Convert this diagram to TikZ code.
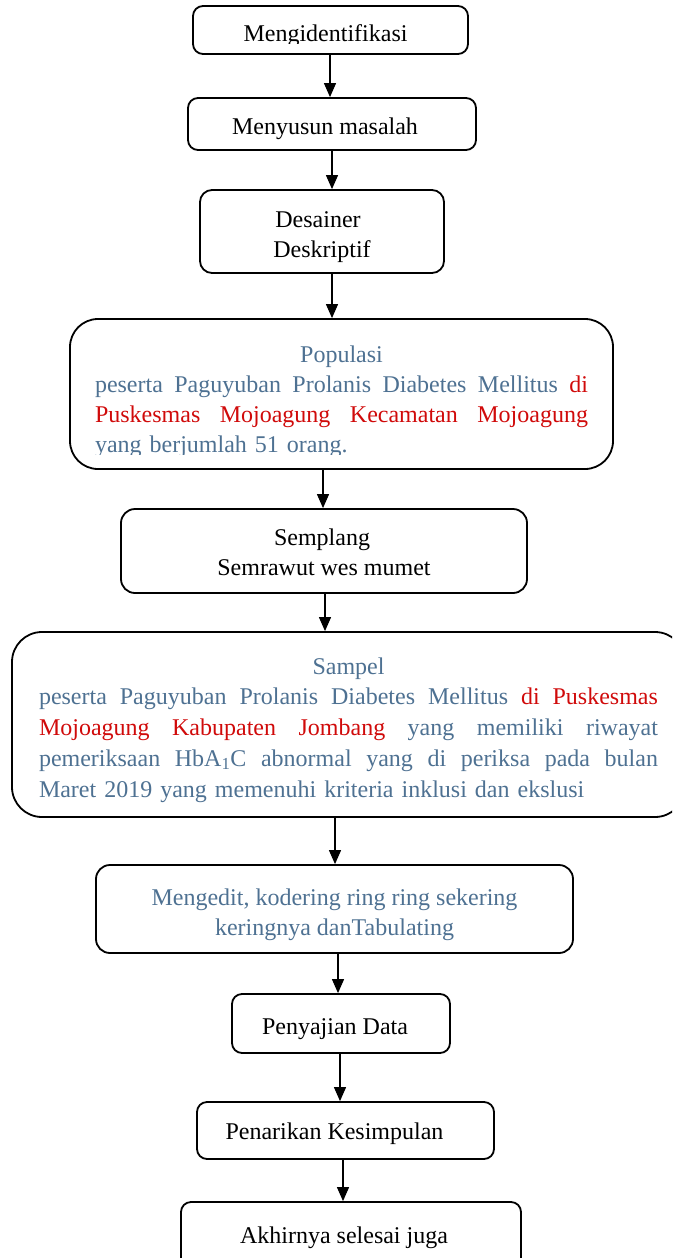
\documentclass[tikz,border=0pt]{standalone}
\usepackage{fontspec}
\setmainfont{Liberation Serif}
\usetikzlibrary{arrows.meta}
\definecolor{bl}{HTML}{4E7192}
\definecolor{rd}{HTML}{D00A0A}
\tikzset{
  box/.style={draw=black, line width=1.8pt, rounded corners=#1, inner sep=0pt,
    align=center, font=\fontsize{24}{30}\selectfont, text depth=0pt},
  box/.default=10pt,
  txt/.style={inner sep=0pt, font=\fontsize{24}{30}\selectfont},
  arr/.style={line width=1.2pt, -{Triangle[width=12pt,length=14pt]}},
}
\begin{document}
\begin{tikzpicture}[x=1pt,y=-1pt]
\useasboundingbox (0,0) rectangle (672,1258);
\clip (0,0) rectangle (672,1258);

% boxes
\node[box, minimum width=275pt, minimum height=48pt] (b1) at (330.5,30) {};
\begin{scope}
  \clip (193,6) rectangle (468,43);
  \node[txt, anchor=base] (t1) at (325.5,41) {Mengidentifikasi};
\end{scope}
\node[box, minimum width=288pt, minimum height=52pt, text height=21pt] (b2) at (332,124) {Menyusun masalah\hspace*{14pt}};
\node[box=12pt, minimum width=244pt, minimum height=83pt, text height=51pt] (b3) at (322,231.5) {Desainer\hspace*{8pt}\\Deskriptif};
\node[box=28pt, minimum width=543pt, minimum height=150pt] (b4) at (341.5,394) {};
\begin{scope}
  \clip (72,321) rectangle (611,454.5);
  \node[txt, anchor=base, text width=493pt, align=left] (t4) at (341.5,362) {%
    \makebox[493pt][c]{\color{bl}Populasi}\\
    \makebox[493pt][l]{\color{bl}peserta\hfill Paguyuban\hfill Prolanis\hfill Diabetes\hfill Mellitus\hfill {\color{rd}di}}\\
    \makebox[493pt][l]{\color{rd}Puskesmas\hfill Mojoagung\hfill Kecamatan\hfill Mojoagung}\\
    {\color{bl}yang berjumlah 51 orang.}};
\end{scope}
\node[box=14pt, minimum width=406pt, minimum height=84pt, text height=49pt] (b5) at (324,551) {Semplang\hspace*{4pt}\\Semrawut wes mumet};
\node[box=30pt, minimum width=673pt, minimum height=185pt, text width=619pt, align=left, text height=0pt, text depth=101pt,
      font=\fontsize{24}{30.75}\selectfont] (b6) at (348.5,724.5) {%
  \makebox[619pt][c]{\color{bl}Sampel}\\
  \makebox[619pt][l]{\color{bl}peserta\hfill Paguyuban\hfill Prolanis\hfill Diabetes\hfill Mellitus\hfill {\color{rd}di\hfill Puskesmas}}\\
  \makebox[619pt][l]{{\color{rd}Mojoagung\hfill Kabupaten\hfill Jombang}\hfill\color{bl}yang\hfill memiliki\hfill riwayat}\\
  \makebox[619pt][l]{\color{bl}pemeriksaan\hfill HbA\textsubscript{1}C\hfill abnormal\hfill yang\hfill di\hfill periksa\hfill pada\hfill bulan}\\
  {\color{bl}Maret 2019 yang memenuhi kriteria inklusi dan ekslusi}};
\node[box=14pt, minimum width=477pt, minimum height=88pt, text=bl, text height=53pt] (b7) at (334.5,909) {Mengedit, kodering ring ring sekering\\keringnya danTabulating};
\node[box, minimum width=218pt, minimum height=59pt, text height=21pt] (b8) at (341,1023.5) {Penyajian Data\hspace*{12pt}};
\node[box, minimum width=297pt, minimum height=57pt, text height=17pt] (b9) at (345.5,1130.5) {Penarikan Kesimpulan\hspace*{22pt}};
\node[box, minimum width=340pt, minimum height=80pt, text height=3pt] (b10) at (351,1242) {Akhirnya selesai juga\hspace*{14pt}};

% connectors
\coordinate (x1) at (330,0);
\coordinate (x2) at (332,0);
\coordinate (x3) at (332,0);
\coordinate (x4) at (323,0);
\coordinate (x5) at (325,0);
\coordinate (x6) at (335,0);
\coordinate (x7) at (338,0);
\coordinate (x8) at (340,0);
\coordinate (x9) at (343,0);

\draw[arr] (b1.south -| x1) -- (b2.north -| x1);
\draw[arr] (b2.south -| x2) -- (b3.north -| x2);
\draw[arr] (b3.south -| x3) -- (b4.north -| x3);
\draw[arr] (b4.south -| x4) -- (b5.north -| x4);
\draw[arr] (b5.south -| x5) -- (b6.north -| x5);
\draw[arr] (b6.south -| x6) -- (b7.north -| x6);
\draw[arr] (b7.south -| x7) -- (b8.north -| x7);
\draw[arr] (b8.south -| x8) -- (b9.north -| x8);
\draw[arr] (b9.south -| x9) -- (b10.north -| x9);
\end{tikzpicture}
\end{document}
